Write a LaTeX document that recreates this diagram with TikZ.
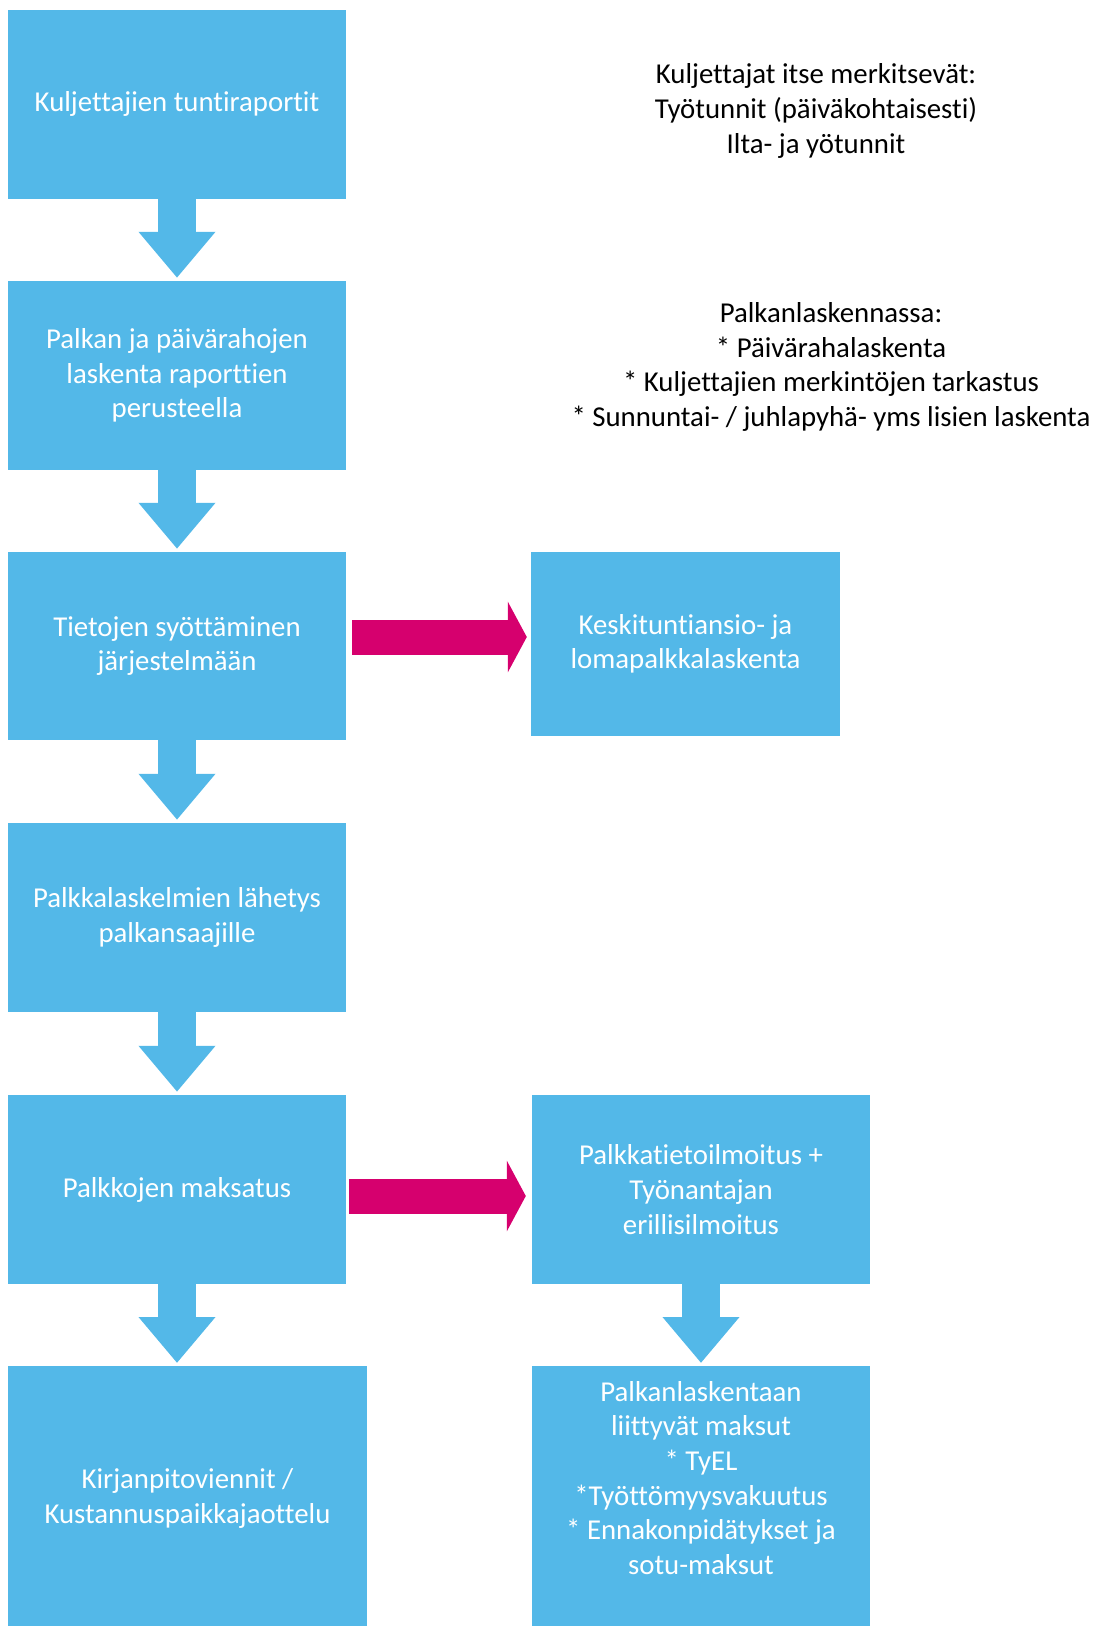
\documentclass[tikz,border=0pt]{standalone}
\usepackage{fontspec}
\setmainfont[Ligatures=NoCommon]{Carlito}
\usetikzlibrary{arrows.meta}
\definecolor{boxblue}{RGB}{83,184,232}
\definecolor{flowmagenta}{RGB}{214,0,110}
\tikzset{
  phase/.style={fill=boxblue, text=white, align=center, inner sep=0pt,
    minimum width=338pt, minimum height=189pt},
  note/.style={text=black, align=center},
  downflow/.style={draw=boxblue, line width=38pt, shorten >=3pt,
    -{Triangle[width=74pt,length=46pt]}},
  sideflow/.style={draw=flowmagenta, line width=35pt,
    -{Triangle[width=70pt,length=19pt]}}
}

\begin{document}
\begin{tikzpicture}[x=1pt,y=-1pt,font=\fontsize{28.8}{34.6}\selectfont]
\useasboundingbox (0,0) rectangle (1096,1626);
%% Left column
\node[phase] (raportit) at (177,104) {Kuljettajien tuntiraportit};
\node[phase] (laskenta) at (177,375.5) {Palkan ja päivärahojen\\laskenta raporttien\\perusteella};
\node[phase, minimum height=188pt] (syotto) at (177,646) {Tietojen syöttäminen\\järjestelmään};
\node[phase] (lahetys) at (177,917.5) {Palkkalaskelmien lähetys\\palkansaajille};
\node[phase] (maksatus) at (177,1189.5) {Palkkojen maksatus};
\node[phase, minimum width=359pt, minimum height=264pt, anchor=north] (kirjanpito) at (187.5,1366) {Kirjanpitoviennit /\\Kustannuspaikkajaottelu};
%% Right column
\node[phase, minimum width=309pt, minimum height=184pt] (keskiansio) at (685.5,644) {Keskituntiansio- ja\\lomapalkkalaskenta};
\node[phase] (ilmoitus) at (701,1189.5) {Palkkatietoilmoitus +\\Työnantajan\\erillisilmoitus};
\node[phase, minimum height=264pt, text depth=41pt, anchor=north] (maksut) at (701,1366) {Palkanlaskentaan\\liittyvät maksut\\* TyEL\\*Työttömyysvakuutus\\* Ennakonpidätykset ja\\sotu-maksut};
%% Notes
\node[note] (merkinnat) at (816,111) {Kuljettajat itse merkitsevät:\\Työtunnit (päiväkohtaisesti)\\Ilta- ja yötunnit};
\node[note] (tarkastus) at (831,367) {Palkanlaskennassa:\\* Päivärahalaskenta\\* Kuljettajien merkintöjen tarkastus\\* Sunnuntai- / juhlapyhä- yms lisien laskenta};
%% Down arrows
\draw[downflow] (raportit) -- (laskenta);
\draw[downflow] (laskenta) -- (syotto);
\draw[downflow] (syotto) -- (lahetys);
\draw[downflow] (lahetys) -- (maksatus);
\draw[downflow] (maksatus.south) -- (maksatus.south |- kirjanpito.north);
\draw[downflow] (ilmoitus) -- (ilmoitus.south |- maksut.north);
%% Side arrows
\draw[sideflow, shorten <=6pt, shorten >=4pt] ([yshift=9pt]syotto.east) -- ([yshift=7pt]keskiansio.west);
\draw[sideflow, shorten <=3pt, shorten >=6pt] ([yshift=-6.5pt]maksatus.east) -- ([yshift=-6.5pt]ilmoitus.west);
\end{tikzpicture}
\end{document}
